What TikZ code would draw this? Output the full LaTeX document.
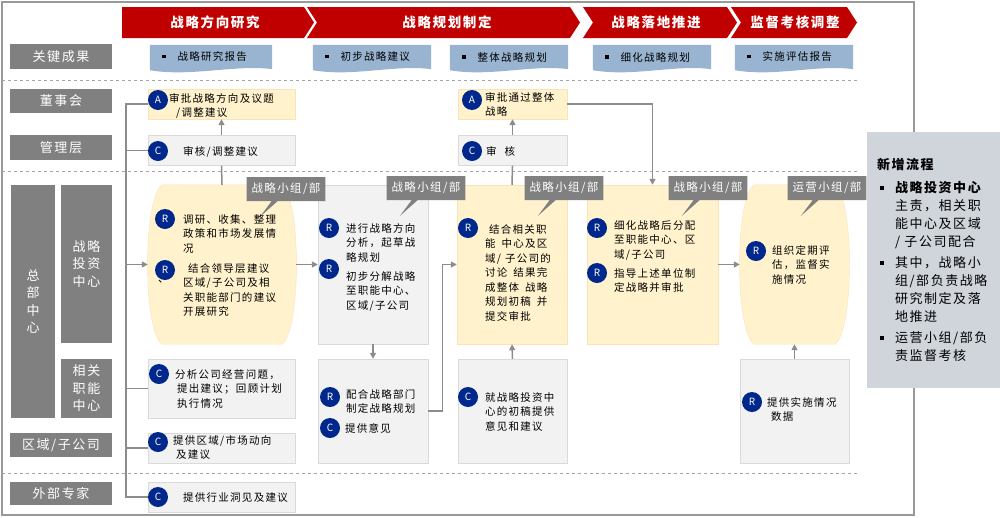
\documentclass[tikz,border=0pt]{standalone}
\usepackage{fontspec}
\setmainfont[LetterSpace=12]{Noto Sans CJK SC}
\usepackage{xcolor}
\usetikzlibrary{shapes.callouts, calc, backgrounds}
\usetikzlibrary{arrows.meta}
\tikzset{>={Triangle[width=6pt,length=6pt]}}
\definecolor{hdred}{RGB}{192,0,0}
\definecolor{labgray}{RGB}{128,128,128}
\definecolor{resblue}{RGB}{152,180,208}
\definecolor{ylw}{RGB}{255,242,204}
\definecolor{ylwedge}{RGB}{248,228,182}
\definecolor{lgray}{RGB}{242,242,242}
\definecolor{lgedge}{RGB}{218,218,218}
\definecolor{rcblue}{RGB}{0,40,140}
\definecolor{linegray}{RGB}{140,140,140}
\definecolor{sidegray}{RGB}{208,213,219}
\newcommand{\resbul}{\raisebox{2.5pt}{\rule{3.5pt}{3.5pt}}\hspace{12pt}}
\newcommand{\sidebul}{\makebox[18pt][l]{\hspace{3pt}\raisebox{3pt}{\rule{4pt}{4pt}}}}
\newcommand{\sideind}{\hspace*{18pt}}

\begin{document}
\begin{tikzpicture}[x=1pt, y=-1pt, lab/.style={fill=labgray, text=white, font=\fontsize{13}{17.5}\selectfont, inner sep=0pt, align=center}, phase/.style={text=white, font=\fontsize{13.5}{16}\selectfont\bfseries, inner sep=0pt}, res/.style={font=\fontsize{10.5}{13}\selectfont, text width=94pt, inner xsep=12pt, inner ysep=0pt, minimum height=24pt, align=left}, ybox/.style={fill=ylw, draw=ylwedge, inner sep=0pt}, gbox/.style={fill=lgray, draw=lgedge, inner sep=0pt}, barrel/.style={inner sep=0pt}, role/.style={circle, fill=rcblue, text=white, minimum size=20pt, inner sep=0pt, font=\fontsize{10}{10}\selectfont}, txt/.style={anchor=north west, inner sep=0pt, align=left, font=\fontsize{10.5}{14.5}\selectfont}, tag/.style={rectangle callout, callout relative pointer={(-15pt,-16pt)}, callout pointer width=6pt, fill=labgray, text=white, font=\fontsize{11.5}{12}\selectfont, minimum height=24pt, inner xsep=5pt}, conn/.style={draw=linegray, line width=1.5pt}, sep/.style={draw=black!35, dashed, line width=1pt}, frame/.style={draw=black!40, line width=1.2pt}, sidebox/.style={fill=sidegray, minimum width=133pt, minimum height=256pt, text width=113pt, inner xsep=10pt, align=left, font=\fontsize{13}{18}\selectfont}]

    \useasboundingbox (0,0) rectangle (1000,517);

    %Frame
    \draw[frame] (2,2) rectangle (914,515);
    \draw[sep] (2,80) -- (857,80);
    \draw[sep] (2,171) -- (857,171);
    \draw[sep] (2,473) -- (857,473);

    %Phases
    \fill[hdred] (122,7) -- (304,7) -- (314,22.5) -- (304,38) -- (122,38) -- cycle;
    \fill[hdred] (307,7) -- (570,7) -- (580,22.5) -- (570,38) -- (307,38) -- (317,22.5) -- cycle;
    \fill[hdred] (583,7) -- (727,7) -- (737,22.5) -- (727,38) -- (583,38) -- (593,22.5) -- cycle;
    \fill[hdred] (731,7) -- (847,7) -- (857,22.5) -- (847,38) -- (731,38) -- (741,22.5) -- cycle;
    \node[phase](ph1) at (215,22.5){战略方向研究};
    \node[phase](ph2) at (447,22.5){战略规划制定};
    \node[phase](ph3) at (656,22.5){战略落地推进};
    \node[phase](ph4) at (795,22.5){监督考核调整};

    %Row labels
    \node[lab, minimum width=102pt, minimum height=25pt](lab_key) at (61,56.5){关键成果};
    \node[lab, minimum width=102pt, minimum height=24pt](lab_board) at (61,101){董事会};
    \node[lab, minimum width=102pt, minimum height=25pt](lab_mgmt) at (61,147.5){管理层};
    \node[lab, minimum width=44pt, minimum height=233pt](lab_hq) at (33,301.5){总\\部\\中\\心};
    \node[lab, minimum width=51pt, minimum height=158pt](lab_inv) at (86.5,264){战略\\投资\\中心};
    \node[lab, minimum width=51pt, minimum height=59pt](lab_func) at (86.5,388.5){相关\\职能\\中心};
    \node[lab, minimum width=102pt, minimum height=24pt](lab_reg) at (61,445){区域/子公司};
    \node[lab, minimum width=102pt, minimum height=23pt](lab_ext) at (61,493.5){外部专家};

    %Results
    \node[res, text width=98pt](res1) at (211,57){\resbul 战略研究报告};
    \node[res](res2) at (372,57){\resbul 初步战略建议};
    \node[res](res3) at (509,57){\resbul 整体战略规划};
    \node[res](res4) at (652,57){\resbul 细化战略规划};
    \node[res](res5) at (794,57){\resbul 实施评估报告};
    \begin{scope}[on background layer]
    \foreach \r in {res1,res2,res3,res4,res5}
        \fill[resblue] (\r.north west) -- (\r.north east) -- (\r.south east) .. controls ([xshift=-35pt,yshift=5pt]\r.south east) and ([xshift=40pt,yshift=-8pt]\r.south west) .. ([yshift=-1pt]\r.south west) -- cycle;
    \end{scope}

    %Boxes
    \node[ybox, minimum width=147pt, minimum height=30pt](brdA1) at (221.5,104){};
    \node[gbox, minimum width=147pt, minimum height=30pt](mgC1) at (221.5,150.5){};
    \node[ybox, minimum width=109pt, minimum height=30pt](brdA2) at (512.5,104){};
    \node[gbox, minimum width=109pt, minimum height=30pt](mgC2) at (512.5,150.5){};
    \node[barrel, minimum width=148pt, minimum height=159pt](shp1) at (222,264.5){};
    \node[gbox, minimum width=110pt, minimum height=159pt](pln2) at (373,264.5){};
    \node[ybox, minimum width=110pt, minimum height=159pt](pln3) at (512,264.5){};
    \node[ybox, minimum width=131pt, minimum height=159pt](pln4) at (652.5,264.5){};
    \node[barrel, minimum width=109pt, minimum height=159pt](shp5) at (794.5,264.5){};
    \node[gbox, minimum width=110pt, minimum height=104pt](sup2) at (373,411){};
    \node[gbox, minimum width=109pt, minimum height=104pt](sup3) at (512.5,411){};
    \node[gbox, minimum width=109pt, minimum height=104pt](sup5) at (794.5,411){};
    \node[gbox, minimum width=147pt, minimum height=59pt](fun1) at (221.5,388.5){};
    \node[gbox, minimum width=147pt, minimum height=30pt](reg1) at (221.5,448){};
    \node[gbox, minimum width=147pt, minimum height=30pt](ext1) at (221.5,497){};
    \begin{scope}[on background layer]
    \foreach \b in {shp1,shp5}
        \filldraw[fill=ylw, draw=ylwedge] ([xshift=14pt]\b.north west) -- ([xshift=-14pt]\b.north east) .. controls ([xshift=5pt,yshift=-15pt]\b.north east) and ([xshift=5pt,yshift=15pt]\b.south east) .. ([xshift=-14pt]\b.south east) -- ([xshift=14pt]\b.south west) .. controls ([xshift=-5pt,yshift=15pt]\b.south west) and ([xshift=-5pt,yshift=-15pt]\b.north west) .. ([xshift=14pt]\b.north west) -- cycle;
    \end{scope}

    %Tags
    \node[tag](tag1) at (286,189){战略小组/部};
    \node[tag](tag2) at (426,188){战略小组/部};
    \node[tag](tag3) at (564,188){战略小组/部};
    \node[tag](tag4) at (708,188){战略小组/部};
    \node[tag](tag5) at (827,188){运营小组/部};

    %Lines
    \coordinate (bus) at (126,0);
    \draw[conn] (brdA1.west) -- (bus |- brdA1.west) -- (bus |- ext1.west) -- (ext1.west);
    \draw[conn] (bus |- mgC1.west) -- (mgC1.west);
    \draw[conn, ->] (bus |- shp1.west) -- (shp1.west);
    \draw[conn] (bus |- fun1.west) -- (fun1.west);
    \draw[conn] (bus |- reg1.west) -- (reg1.west);
    \draw[conn, ->] (mgC1.north) -- (brdA1.south);
    \draw[conn] (mgC1.south) -- (shp1.north);
    \draw[conn, ->] (shp1.east) -- (pln2.west);
    \draw[conn, ->] (pln2.south) -- (sup2.north);
    \draw[conn, ->] (sup2.east) -| ($(sup2.east)!.5!(pln3.west)$) |- (pln3.west);
    \draw[conn, ->] (mgC2.north) -- (brdA2.south);
    \draw[conn] (mgC2.south) -- (pln3.north);
    \draw[conn, ->] (sup3.north) -- (pln3.south);
    \draw[conn, ->] (brdA2.east) -| (pln4.north);
    \draw[conn, ->] (pln4.east) -- (shp5.west);
    \draw[conn, ->] (sup5.north) -- (shp5.south);

    %Roles and texts
    \node[role](cA1) at (158,100){A};
    \node[txt](tA1) at (169,93){审批战略方向及议题\\\hspace*{7pt}/调整建议};
    \node[role](cC1) at (158,151){C};
    \node[txt](tC1) at (183,146){审核/调整建议};
    \node[role](cA2) at (472,100){A};
    \node[txt](tA2) at (485,92){审批通过整体\\战略};
    \node[role](cC2) at (472,151){C};
    \node[txt](tC2) at (486,146){审\hspace{8pt}核};

    \node[role](rA) at (165,219){R};
    \node[txt](tRA) at (183,214){调研、收集、整理\\政策和市场发展情\\况};
    \node[role](rB) at (165,270){R};
    \node[txt](comma) at (158,280){、};
    \node[txt](tRB) at (183,263){\hspace*{5pt}结合领导层建议\\区域/子公司及相\\关职能部门的建议\\开展研究};

    \node[role](rC) at (329,228){R};
    \node[txt](tRC) at (346,223){进行战略方向\\分析，起草战\\略规划};
    \node[role](rD) at (329,269){R};
    \node[txt](tRD) at (346,271){初步分解战略\\至职能中心、\\区域/子公司};
    \node[role](rE) at (330,397){R};
    \node[txt](tRE) at (346,389){配合战略部门\\制定战略规划};
    \node[role](cE) at (330,428){C};
    \node[txt](tCE) at (345,423){提供意见};

    \node[role](rF) at (468,228){R};
    \node[txt](tRF) at (485,224){\hspace*{4pt}结合相关职\\能\hspace{6pt}中心及区\\域/\hspace{4pt}子公司的\\讨论\hspace{6pt}结果完\\成整体\hspace{6pt}战略\\规划初稿\hspace{6pt}并\\提交审批};
    \node[role](cG) at (468,397){C};
    \node[txt](tCG) at (485,392){就战略投资中\\心的初稿提供\\意见和建议};

    \node[role](rH) at (597,228){R};
    \node[txt](tRH) at (614,220){细化战略后分配\\至职能中心、区\\域/子公司};
    \node[role](rI) at (597,273){R};
    \node[txt](tRI) at (614,268){指导上述单位制\\定战略并审批};

    \node[role](rJ) at (756,251){R};
    \node[txt](tRJ) at (772,245){组织定期评\\估，监督实\\施情况};
    \node[role](rK) at (752,402){R};
    \node[txt](tRK) at (767,397){提供实施情况\\\hspace*{4pt}数据};

    \node[role](cH) at (159,374){C};
    \node[txt](tCH) at (175,369){分析公司经营问题，\\\hspace*{2pt}提出建议；回顾计划\\\hspace*{2pt}执行情况};
    \node[role](cI) at (158,442){C};
    \node[txt](tCI) at (173,435){提供区域/市场动向\\\hspace*{3pt}及建议};
    \node[role](cJ) at (158,497){C};
    \node[txt](tCJ) at (183,492){提供行业洞见及建议};

    %Note
    \node[sidebox](note) at (933.5,260){\textbf{新增流程}\\[5pt]\sidebul\textbf{战略投资中心}\\\sideind 主责，相关职\\\sideind 能中心及区域\\\sideind / 子公司配合\\[3pt]\sidebul 其中，战略小\\\sideind 组/部负责战略\\\sideind 研究制定及落\\\sideind 地推进\\[3pt]\sidebul 运营小组/部负\\\sideind 责监督考核};

\end{tikzpicture}
\end{document}
